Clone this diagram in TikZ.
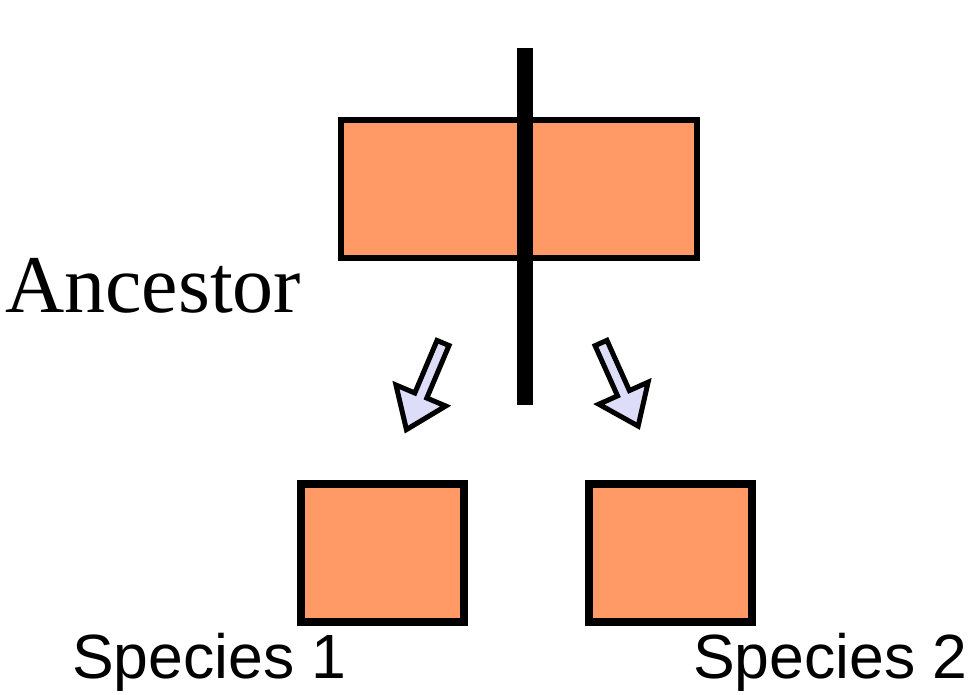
\documentclass[tikz,border=0pt]{standalone}
\usepackage{fontspec}
\setmainfont{Liberation Serif}
\newfontfamily\arialfont{Liberation Sans}
\definecolor{cellorange}{HTML}{FF9966}
\definecolor{arrowlilac}{HTML}{DDDDFA}
\begin{document}
\begin{tikzpicture}[x=1pt,y=-1pt,
  cellbox/.style={draw=black, fill=cellorange, line width=6pt, line join=miter},
  daughterbox/.style={draw=black, fill=cellorange, line width=8pt, line join=miter},
  divbar/.style={draw=black, line width=16pt},
  blockarrow/.style={draw=black, fill=arrowlilac, line width=5pt, line join=miter},
  labeltext/.style={inner sep=0pt, anchor=base west}]
\useasboundingbox (0,0) rectangle (976,695);

% ancestral cell with the dividing bar
\draw[cellbox] (341,120) rectangle (697,258);
\coordinate (bartop) at (525,48);
\coordinate (barbottom) at (525,405);
\draw[divbar] (bartop) -- (barbottom);

% daughter cells
\draw[daughterbox] (301,484) rectangle (464,622);
\draw[daughterbox] (589,484) rectangle (752,622);

% block arrows from ancestor to daughters
\begin{scope}[shift={(443,343)}, rotate=247.1]
  \draw[blockarrow] (0,-6.5) -- (57,-6.5) -- (57,-27) -- (94,0) -- (57,27) -- (57,6.5) -- (0,6.5) -- cycle;
\end{scope}
\begin{scope}[shift={(601,343)}, rotate=-65.9]
  \draw[blockarrow] (0,-6.5) -- (55,-6.5) -- (55,-27) -- (91,0) -- (55,27) -- (55,6.5) -- (0,6.5) -- cycle;
\end{scope}

% labels
\node[labeltext, font=\fontsize{82}{90}\selectfont] (ancestor) at (5,312) {Ancestor};
\node[labeltext, font=\arialfont\fontsize{62.5}{70}\selectfont] (sp1) at (72,678) {Species 1};
\node[labeltext, font=\arialfont\fontsize{62.5}{70}\selectfont] (sp2) at (693,678) {Species 2};
\end{tikzpicture}
\end{document}
